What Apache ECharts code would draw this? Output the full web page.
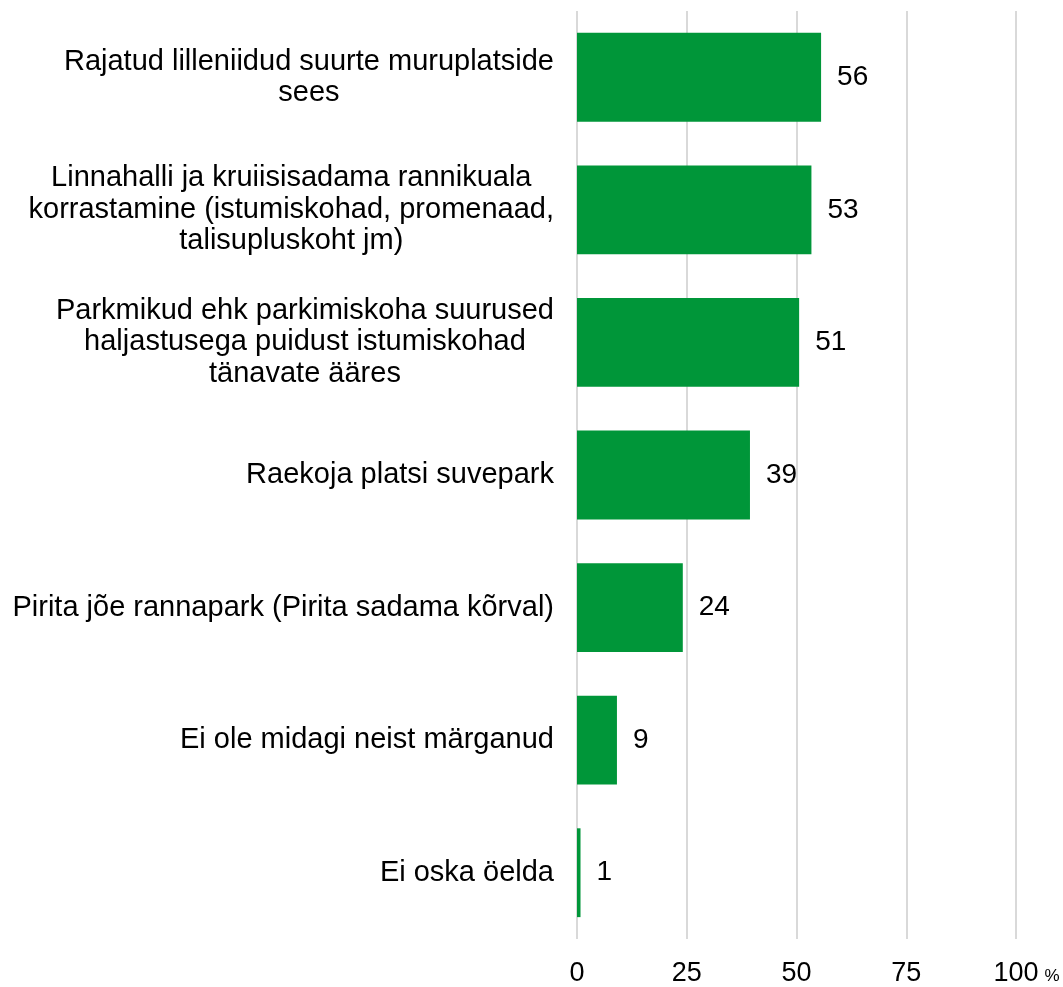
<!DOCTYPE html>
<html>
<head>
<meta charset="utf-8">
<script src="https://cdn.jsdelivr.net/npm/echarts@6/dist/echarts.min.js"></script>
<style>
html,body{margin:0;padding:0;background:#fff;}
#c{width:1063px;height:987px;}
</style>
</head>
<body>
<div id="c"></div>
<script>
const categories = [
  "Rajatud lilleniidud suurte muruplatside\nsees",
  "Linnahalli ja kruiisisadama rannikuala\nkorrastamine (istumiskohad, promenaad,\ntalisupluskoht jm)",
  "Parkmikud ehk parkimiskoha suurused\nhaljastusega puidust istumiskohad\ntänavate ääres",
  "Raekoja platsi suvepark",
  "Pirita jõe rannapark (Pirita sadama kõrval)",
  "Ei ole midagi neist märganud",
  "Ei oska öelda"
];
const values = [55.6, 53.4, 50.6, 39.4, 24.1, 9.1, 0.8];
const labels = [56, 53, 51, 39, 24, 9, 1];
const xTicks = [0, 25, 50, 75, 100];

const chart = echarts.init(document.getElementById('c'), null, {renderer: 'canvas'});
const font = "'Liberation Sans', Arial, sans-serif";
chart.setOption({
  animation: false,
  backgroundColor: '#ffffff',
  grid: {left: 577, right: 47, top: 11, bottom: 48, containLabel: false},
  xAxis: {
    type: 'value',
    min: xTicks[0],
    max: xTicks[xTicks.length - 1],
    interval: 25,
    axisLine: {show: false},
    axisTick: {show: false},
    splitLine: {show: true, lineStyle: {color: '#d9d9d9', width: 2}},
    axisLabel: {
      margin: 21,
      color: '#000000',
      fontFamily: font,
      fontSize: 27,
      formatter: v => String(v)
    },
    name: '%',
    nameLocation: 'end',
    nameGap: 19,
    nameTextStyle: {
      fontFamily: font,
      fontSize: 17,
      color: '#000000',
      align: 'left',
      verticalAlign: 'top',
      padding: [29, 0, 0, 0]
    }
  },
  yAxis: {
    type: 'category',
    inverse: true,
    data: categories,
    axisLine: {show: false},
    axisTick: {show: false},
    splitLine: {show: false},
    axisLabel: {
      margin: 23,
      align: 'right',
      color: '#000000',
      fontFamily: font,
      fontSize: 29,
      lineHeight: 31.5,
      formatter: v => v.split('\n').map(l => '{c|' + l + '}').join('\n'),
      rich: {
        c: {align: 'center', fontFamily: font, fontSize: 29, lineHeight: 31.5, color: '#000000'}
      }
    }
  },
  series: [{
    type: 'bar',
    data: values,
    barWidth: '67%',
    itemStyle: {color: '#009639'},
    label: {
      show: true,
      position: 'right',
      distance: 16,
      color: '#000000',
      fontFamily: font,
      fontSize: 28,
      formatter: p => String(labels[p.dataIndex])
    }
  }]
});
</script>
</body>
</html>
